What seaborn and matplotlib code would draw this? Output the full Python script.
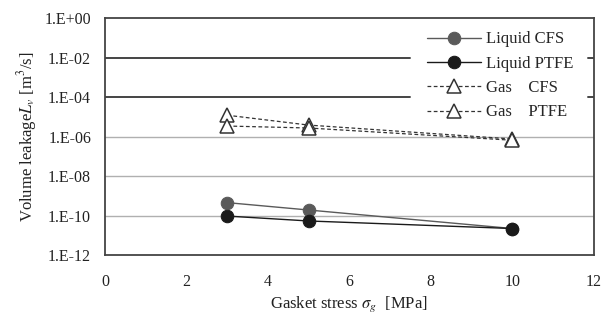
import matplotlib
matplotlib.use("Agg")
import matplotlib.pyplot as plt
import seaborn as sns
import pandas as pd

stress = [3, 5, 10]
liquid_cfs = [4.5e-10, 1.9e-10, 2.2e-11]
liquid_ptfe = [9.4e-11, 5.3e-11, 2.2e-11]
gas_cfs = [1.2e-5, 3.8e-6, 7.5e-7]
gas_ptfe = [3.4e-6, 2.7e-6, 6.5e-7]
labels = ["Liquid CFS", "Liquid PTFE", "Gas    CFS", "Gas    PTFE"]
yticks = [1e0, 1e-2, 1e-4, 1e-6, 1e-8, 1e-10, 1e-12]
ytick_labels = ["1.E+00", "1.E-02", "1.E-04", "1.E-06", "1.E-08", "1.E-10", "1.E-12"]

sns.set_style("white")
plt.rcParams["font.family"] = ["Liberation Serif", "DejaVu Serif"]
plt.rcParams["mathtext.fontset"] = "stix"

fig = plt.figure(figsize=(6.14, 3.22), dpi=100)
ax = fig.add_axes([0.171, 0.208, 0.796, 0.736])

series = [liquid_cfs, liquid_ptfe, gas_cfs, gas_ptfe]
styles = [
    dict(color="#5a5a5a", marker="o", linestyle="-", markersize=9, mfc="#5a5a5a", mec="#5a5a5a", lw=1.0),
    dict(color="#1a1a1a", marker="o", linestyle="-", markersize=9, mfc="#1a1a1a", mec="#1a1a1a", lw=1.0),
    dict(color="#333333", marker="^", linestyle=(0, (3, 2)), markersize=10, mfc="white", mec="#333333", lw=0.9, mew=1.1),
    dict(color="#333333", marker="^", linestyle=(0, (3, 2)), markersize=10, mfc="white", mec="#333333", lw=0.9, mew=1.1),
]

# light grid
for v in [1e-6, 1e-8, 1e-10]:
    ax.axhline(v, color="#b0b0b0", lw=1.0, zorder=0)
# the two dark grid lines that stop at the legend
for v in [1e-2, 1e-4]:
    ax.axhline(v, xmin=0, xmax=0.624, color="#444444", lw=1.4, zorder=0)
    ax.axhline(v, xmin=0.988, xmax=1.0, color="#444444", lw=1.4, zorder=0)

for vals, lab, st in zip(series, labels, styles):
    df = pd.DataFrame({"x": stress, "y": vals})
    sns.lineplot(data=df, x="x", y="y", ax=ax, label=lab, **st)

ax.set_yscale("log")
ax.set_ylim(1e-12, 1e0)
ax.set_xlim(0, 12)
ax.set_yticks(yticks)
ax.set_yticklabels(ytick_labels)
ax.minorticks_off()
ax.set_xticks(range(0, 13, 2))
ax.tick_params(axis="x", direction="in", length=4, color="#444444", labelsize=11.5, pad=14)
ax.tick_params(axis="y", length=0, labelsize=11.5, pad=10)
for tl in ax.get_xticklabels() + ax.get_yticklabels():
    tl.set_color("#222222")

for s in ax.spines.values():
    s.set_color("#444444")
    s.set_linewidth(1.3)

ax.set_xlabel(r"Gasket stress $\sigma_g$  [MPa]", fontsize=12, color="#222222", labelpad=3)
ax.set_ylabel(r"Volume leakage$L_v$ [m$^3$/s]", fontsize=12, color="#222222", labelpad=4)

ax.legend(loc="upper right", bbox_to_anchor=(1.0, 1.028), frameon=False, fontsize=12,
          handlelength=3.2, handletextpad=0.35, labelspacing=0.5, borderaxespad=0.8)

fig.savefig("out.png", dpi=100)
